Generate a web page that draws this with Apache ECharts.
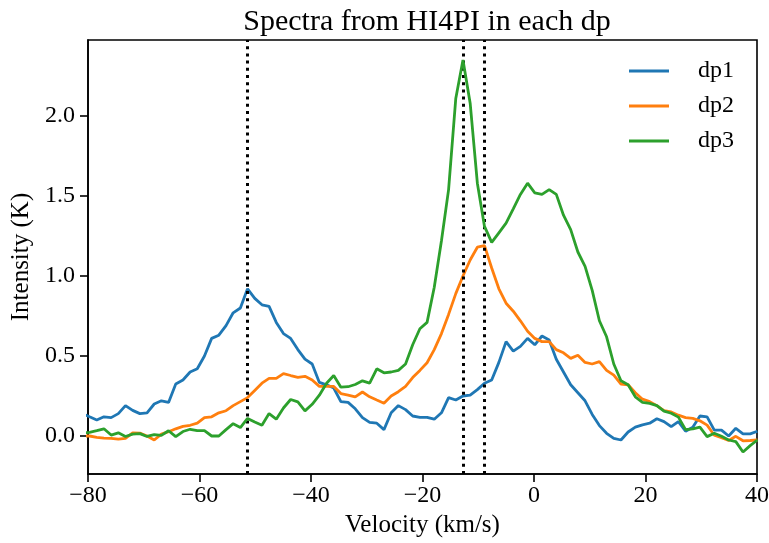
<!DOCTYPE html>
<html>
<head>
<meta charset="utf-8">
<script src="https://cdn.jsdelivr.net/npm/echarts@6/dist/echarts.min.js"></script>
<style>
html,body{margin:0;padding:0;background:#fff;}
#chart{width:769px;height:543px;}
</style>
</head>
<body>
<div id="chart"></div>
<script>
// Velocity channels (km/s)
const velocities = [-81.00, -79.72, -78.43, -77.14, -75.85, -74.56, -73.28, -71.99, -70.70, -69.41,
  -68.12, -66.84, -65.55, -64.26, -62.97, -61.68, -60.40, -59.11, -57.82, -56.53,
  -55.24, -53.96, -52.67, -51.38, -50.09, -48.80, -47.52, -46.23, -44.94, -43.65,
  -42.36, -41.08, -39.79, -38.50, -37.21, -35.92, -34.64, -33.35, -32.06, -30.77,
  -29.48, -28.20, -26.91, -25.62, -24.33, -23.04, -21.76, -20.47, -19.18, -17.89,
  -16.60, -15.32, -14.03, -12.74, -11.45, -10.16, -8.88, -7.59, -6.30, -5.01,
  -3.72, -2.44, -1.15, 0.14, 1.43, 2.72, 4.00, 5.29, 6.58, 7.87,
  9.16, 10.44, 11.73, 13.02, 14.31, 15.60, 16.88, 18.17, 19.46, 20.75,
  22.04, 23.32, 24.61, 25.90, 27.19, 28.48, 29.76, 31.05, 32.34, 33.63,
  34.92, 36.20, 37.49, 38.78, 40.07];

const dp1 = [0.14, 0.12, 0.10, 0.12, 0.115, 0.14, 0.19, 0.16, 0.14, 0.145,
  0.20, 0.22, 0.21, 0.325, 0.35, 0.40, 0.42, 0.50, 0.61, 0.63,
  0.69, 0.77, 0.80, 0.92, 0.86, 0.82, 0.81, 0.71, 0.64, 0.61,
  0.54, 0.48, 0.45, 0.335, 0.32, 0.30, 0.215, 0.21, 0.17, 0.115,
  0.085, 0.08, 0.04, 0.145, 0.19, 0.165, 0.125, 0.117, 0.117, 0.105,
  0.145, 0.24, 0.225, 0.25, 0.255, 0.29, 0.33, 0.35, 0.46, 0.59,
  0.53, 0.56, 0.61, 0.57, 0.625, 0.60, 0.48, 0.40, 0.32, 0.27,
  0.22, 0.135, 0.065, 0.017, -0.015, -0.025, 0.025, 0.055, 0.07, 0.08,
  0.108, 0.09, 0.058, 0.09, 0.03, 0.055, 0.125, 0.12, 0.037, 0.037,
  0.0, 0.048, 0.013, 0.013, 0.03];

const dp2 = [0.0, 0.0, -0.008, -0.013, -0.015, -0.02, -0.015, 0.02, 0.018, 0.0,
  -0.025, 0.012, 0.027, 0.045, 0.06, 0.067, 0.08, 0.115, 0.12, 0.145,
  0.158, 0.19, 0.215, 0.24, 0.285, 0.33, 0.36, 0.36, 0.39, 0.378,
  0.367, 0.373, 0.35, 0.31, 0.31, 0.31, 0.265, 0.256, 0.245, 0.275,
  0.245, 0.225, 0.205, 0.25, 0.277, 0.31, 0.365, 0.41, 0.458, 0.54,
  0.64, 0.76, 0.89, 1.0, 1.10, 1.18, 1.19, 1.05, 0.92, 0.83,
  0.78, 0.72, 0.655, 0.61, 0.59, 0.59, 0.54, 0.52, 0.485, 0.505,
  0.46, 0.45, 0.465, 0.41, 0.38, 0.325, 0.32, 0.27, 0.23, 0.215,
  0.19, 0.158, 0.15, 0.13, 0.115, 0.11, 0.095, 0.068, 0.005, -0.01,
  -0.028, -0.002, -0.03, -0.028, -0.025];

const dp3 = [0.02, 0.023, 0.033, 0.045, 0.006, 0.02, -0.003, 0.012, 0.015, -0.003,
  0.008, 0.004, 0.033, -0.004, 0.028, 0.042, 0.033, 0.033, 0.0, 0.0,
  0.04, 0.077, 0.053, 0.11, 0.087, 0.067, 0.14, 0.105, 0.175, 0.228,
  0.213, 0.157, 0.198, 0.255, 0.33, 0.378, 0.305, 0.308, 0.322, 0.345,
  0.33, 0.42, 0.395, 0.40, 0.41, 0.45, 0.57, 0.67, 0.71, 0.93,
  1.22, 1.54, 2.11, 2.35, 2.08, 1.58, 1.31, 1.21, 1.27, 1.33,
  1.42, 1.51, 1.58, 1.52, 1.51, 1.54, 1.51, 1.38, 1.29, 1.15,
  1.06, 0.91, 0.72, 0.62, 0.45, 0.345, 0.32, 0.245, 0.21, 0.204,
  0.19, 0.155, 0.142, 0.118, 0.04, 0.045, 0.055, -0.004, 0.017, -0.002,
  -0.025, -0.035, -0.10, -0.06, -0.025];

const seriesNames = ['dp1', 'dp2', 'dp3'];
const vlineVelocities = [-51.38, -12.74, -8.88];
const yTickValues = [0, 0.5, 1.0, 1.5, 2.0];
const xTickInterval = 20;

const FONT = '"Liberation Serif", "DejaVu Serif", serif';
const colors = ['#1f77b4', '#ff7f0e', '#2ca02c'];
const allData = [dp1, dp2, dp3];

const chart = echarts.init(document.getElementById('chart'), null, {renderer: 'canvas'});

const series = seriesNames.map((name, k) => ({
  name: name,
  type: 'line',
  data: velocities.map((v, i) => [v, allData[k][i]]),
  symbol: 'none',
  showSymbol: false,
  clip: true,
  lineStyle: {color: colors[k], width: 2.8},
  itemStyle: {color: colors[k]},
  z: 3 + k
}));

series.push({
  name: 'vlines',
  type: 'line',
  data: [],
  silent: true,
  z: 10,
  markLine: {
    silent: true,
    symbol: ['none', 'none'],
    label: {show: false},
    animation: false,
    lineStyle: {color: '#000', width: 3, type: [3, 4.2], opacity: 1},
    emphasis: {disabled: true},
    data: vlineVelocities.map(v => ({xAxis: v}))
  }
});

const option = {
  animation: false,
  backgroundColor: '#fff',
  title: {
    text: 'Spectra from HI4PI in each dp',
    left: 422, top: 2, textAlign: 'center',
    textStyle: {fontFamily: FONT, fontSize: 30, fontWeight: 'normal', color: '#000'}
  },
  legend: {
    data: seriesNames,
    orient: 'vertical',
    right: 35, top: 59,
    padding: 0,
    icon: 'rect',
    itemWidth: 40, itemHeight: 2.8,
    itemGap: 11,
    textStyle: {fontFamily: FONT, fontSize: 24, color: '#000', padding: [0, 0, 0, 24]}
  },
  grid: {left: 88, right: 12, top: 40, bottom: 69, show: true, borderColor: '#000', borderWidth: 1.6,
    containLabel: false, outerBoundsMode: 'none'},
  xAxis: {
    type: 'value', min: -80, max: 40, interval: xTickInterval,
    name: 'Velocity (km/s)', nameLocation: 'middle', nameGap: 38,
    nameTextStyle: {fontFamily: FONT, fontSize: 25, color: '#000'},
    axisLine: {show: true, onZero: false, lineStyle: {color: '#000', width: 1.6}},
    axisTick: {show: true, inside: false, length: 8, lineStyle: {color: '#000', width: 1.6}},
    axisLabel: {fontFamily: FONT, fontSize: 24, color: '#000', margin: 10,
      formatter: v => (v < 0 ? '\u2212' + Math.abs(v) : String(v))},
    splitLine: {show: false}
  },
  yAxis: {
    type: 'value', min: -0.2375, max: 2.475,
    name: 'Intensity (K)', nameLocation: 'middle', nameGap: 54,
    nameTextStyle: {fontFamily: FONT, fontSize: 25, color: '#000'},
    axisLine: {show: true, onZero: false, lineStyle: {color: '#000', width: 1.6}},
    axisTick: {show: true, inside: false, length: 8, customValues: yTickValues, lineStyle: {color: '#000', width: 1.6}},
    axisLabel: {fontFamily: FONT, fontSize: 24, color: '#000', margin: 13, customValues: yTickValues,
      formatter: v => v.toFixed(1)},
    splitLine: {show: false}
  },
  series: series
};

chart.setOption(option);
</script>
</body>
</html>
